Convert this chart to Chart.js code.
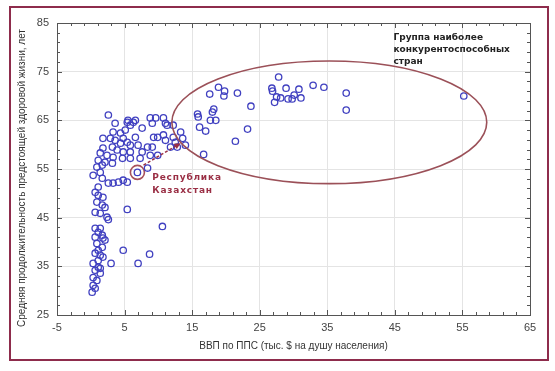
<!DOCTYPE html>
<html lang="ru">
<head>
<meta charset="UTF-8">
<title>ВВП по ППС и продолжительность здоровой жизни</title>
<script src="https://cdn.jsdelivr.net/npm/chart.js"></script>
<style>
    body { margin: 0; background: #fff; }
    #wrap { width: 555px; height: 371px; }
</style>
</head>
<body>
<div id="wrap"><canvas id="chart" width="555" height="371"></canvas></div>
<script>
// ВВП по ППС, тыс. $ на душу населения
const gdpValues = [
    27.8, 26.8, 26.9, 27.2, 27.5, 28.1, 28.9, 29.2, 29.8, 30.1, 30.8, 31.1, 32.9, 34.5, 37.8, 37.8, 55.2,
    18.9, 19.8, 19.7, 17.6, 21.7, 23.7, 15.8, 15.9, 18.0, 18.2, 17.7, 18.5, 16.1, 17.0, 23.2, 21.4, 16.7,
    9.6, 10.75, 11.05, 10.75, 11.05, 9.3, 12.5, 12.8, 11.8, 9.9, 9.1, 13.3, 12.2, 13.6, 14.0, 11.3, 12.2,
    2.6, 5.5, 6.3, 5.85, 7.6, 8.8, 9.1, 3.3, 4.4, 5.1, 6.6, 9.9, 1.8, 2.9, 3.6, 4.8, 5.4, 4.4, 5.85, 7.0,
    8.4, 1.8, 3.2, 3.9, 4.8, 5.85, 1.4, 2.4, 3.3, 4.7, 5.85, 7.3, 1.1, 2.1, 3.2, 8.8, 7.6, 0.9, 1.7, 8.4,
    3.6, 5.4, 6.6,
    1.4, 0.35, 1.7, 2.6, 3.3, 4.1, 4.8, 5.4, 1.1, 0.65, 1.1, 1.8, 0.9, 1.7, 2.1, 0.65, 1.4, 2.4, 2.6, 5.4,
    0.65, 1.1, 1.7, 0.65, 1.8, 1.4, 2.1, 0.9, 1.7, 1.1, 0.65, 1.8, 1.1, 0.35, 1.1, 0.65, 1.4, 0.35, 0.9,
    0.35, 0.65, 0.2, 1.4, 1.4, 4.8, 8.7, 7.0, 3.0, 10.6
];
// Средняя продолжительность предстоящей здоровой жизни, лет
const lifeValues = [
    73.9, 71.6, 71.0, 68.7, 69.8, 69.6, 71.6, 69.4, 69.4, 70.2, 71.4, 69.6, 72.2, 71.8, 70.6, 67.1, 70.0,
    71.8, 71.0, 70.0, 70.4, 70.6, 67.9, 66.3, 65.7, 66.7, 67.3, 65.0, 65.0, 63.6, 62.8, 63.2, 60.7, 58.0,
    65.5, 65.5, 64.4, 62.0, 60.9, 61.5, 60.5, 59.5, 59.5, 57.8, 59.5, 62.6, 61.5, 61.3, 59.9, 64.0, 64.0,
    66.1, 65.0, 64.6, 64.0, 63.4, 65.5, 64.4, 62.6, 62.4, 63.0, 61.5, 61.5, 61.3, 61.3, 60.9, 61.3, 60.5, 60.3, 59.9, 59.9,
    59.5, 59.3, 59.5, 58.9, 58.5, 58.5, 58.3, 57.8, 57.4, 57.2, 57.2, 57.2, 56.8, 56.4, 56.2, 57.8, 58.5, 55.4, 55.8, 55.2,
    64.4, 64.6, 65.0,
    54.3, 53.7, 53.1, 52.1, 52.1, 52.3, 52.7, 52.3, 51.3, 50.2, 49.6, 49.2, 48.2, 47.6, 47.1, 46.1, 45.9, 45.1, 44.6, 46.7,
    42.8, 42.0, 41.4, 41.0, 40.8, 42.8, 40.4, 39.7, 38.9, 38.3, 37.7, 36.9, 36.2, 35.6, 34.8, 34.2, 33.6, 32.7, 32.1,
    31.1, 30.5, 29.7, 37.3, 34.6, 38.3, 37.5, 35.6, 35.6, 43.2
];

// Республика Казахстан
const kzGdp = 6.9;
const kzLife = 54.3;

// arrow from Kazakhstan towards the group
const arrowFrom = [7.8, 55.8];
const arrowTo = [13.3, 60.3];

// ellipse around the most competitive countries (centre and half-axes in data units)
const ellipseCenter = [35.3, 64.6];
const ellipseRadius = [23.3, 12.6];

const xTitle = 'ВВП по ППС (тыс. $ на душу населения)';
const yTitle = 'Средняя продолжительность предстоящей здоровой жизни, лет';
const groupLabel = ['Группа наиболее', 'конкурентоспособных', 'стран'];
const kzLabel = ['Республика', 'Казахстан'];

const points = gdpValues.map((g, i) => ({ x: g, y: lifeValues[i] }));

const MAROON = '#9a2f45';
const BLUE = '#4040c0';

const decor = {
    id: 'decor',
    beforeDraw(chart) {
        const ctx = chart.ctx;
        ctx.save();
        ctx.fillStyle = '#fff';
        ctx.fillRect(0, 0, chart.width, chart.height);
        ctx.strokeStyle = '#8e2c4c';
        ctx.lineWidth = 2;
        ctx.strokeRect(10, 7, 538, 353);
        ctx.restore();
    },
    afterDatasetsDraw(chart) {
        const ctx = chart.ctx;
        const xs = chart.scales.x, ys = chart.scales.y;
        const area = chart.chartArea;
        ctx.save();

        // plot box
        ctx.strokeStyle = '#555';
        ctx.lineWidth = 1;
        ctx.strokeRect(area.left + 0.5, area.top + 0.5, area.right - area.left, area.bottom - area.top);

        // minor ticks
        ctx.beginPath();
        for (let v = -5; v <= 65; v += 2) {
            const px = Math.round(xs.getPixelForValue(v)) + 0.5;
            const len = (v + 5) % 10 === 0 ? 5 : 3;
            ctx.moveTo(px, area.bottom); ctx.lineTo(px, area.bottom - len);
            ctx.moveTo(px, area.top); ctx.lineTo(px, area.top + len);
        }
        for (let v = 25; v <= 85; v += 2) {
            const py = Math.round(ys.getPixelForValue(v)) + 0.5;
            const len = (v - 25) % 10 === 0 ? 5 : 3;
            ctx.moveTo(area.left, py); ctx.lineTo(area.left + len, py);
            ctx.moveTo(area.right, py); ctx.lineTo(area.right - len, py);
        }
        ctx.stroke();

        // ellipse
        const cx = xs.getPixelForValue(ellipseCenter[0]);
        const cy = ys.getPixelForValue(ellipseCenter[1]);
        const rx = xs.getPixelForValue(ellipseCenter[0] + ellipseRadius[0]) - cx;
        const ry = cy - ys.getPixelForValue(ellipseCenter[1] + ellipseRadius[1]);
        ctx.beginPath();
        ctx.ellipse(cx, cy, rx, ry, 0, 0, Math.PI * 2);
        ctx.strokeStyle = '#9b5058';
        ctx.lineWidth = 1.6;
        ctx.stroke();

        // arrow
        const ax0 = xs.getPixelForValue(arrowFrom[0]), ay0 = ys.getPixelForValue(arrowFrom[1]);
        const ax1 = xs.getPixelForValue(arrowTo[0]), ay1 = ys.getPixelForValue(arrowTo[1]);
        const ang = Math.atan2(ay1 - ay0, ax1 - ax0);
        ctx.strokeStyle = MAROON;
        ctx.lineWidth = 1.5;
        ctx.setLineDash([3, 2]);
        ctx.beginPath();
        ctx.moveTo(ax0, ay0);
        ctx.lineTo(ax1 - 5 * Math.cos(ang), ay1 - 5 * Math.sin(ang));
        ctx.stroke();
        ctx.setLineDash([]);
        ctx.fillStyle = MAROON;
        ctx.beginPath();
        ctx.moveTo(ax1, ay1);
        ctx.lineTo(ax1 - 7 * Math.cos(ang - 0.45), ay1 - 7 * Math.sin(ang - 0.45));
        ctx.lineTo(ax1 - 7 * Math.cos(ang + 0.45), ay1 - 7 * Math.sin(ang + 0.45));
        ctx.closePath();
        ctx.fill();

        // labels
        ctx.textBaseline = 'middle';
        ctx.textAlign = 'left';
        ctx.font = 'bold 9px "DejaVu Sans"';
        ctx.fillStyle = '#222';
        const gx = xs.getPixelForValue(44.8);
        groupLabel.forEach((t, i) => ctx.fillText(t, gx, ys.getPixelForValue(81.9) + i * 12));

        ctx.fillStyle = MAROON;
        ctx.letterSpacing = '0.8px';
        const kx = xs.getPixelForValue(9.1);
        kzLabel.forEach((t, i) => ctx.fillText(t, kx, ys.getPixelForValue(53.3) + i * 13));
        ctx.letterSpacing = '0px';

        // y axis title
        ctx.translate(22, 178);
        ctx.rotate(-Math.PI / 2);
        ctx.textAlign = 'center';
        ctx.font = '10px "Liberation Sans", Arial, sans-serif';
        ctx.fillStyle = '#333';
        ctx.fillText(yTitle, 0, 0);
        ctx.restore();
    }
};

new Chart(document.getElementById('chart').getContext('2d'), {
    type: 'scatter',
    data: {
        datasets: [{
            label: 'Страны',
            data: points,
            pointStyle: 'circle',
            pointRadius: 3.2,
            borderWidth: 1.3,
            borderColor: BLUE,
            backgroundColor: 'rgba(255,255,255,0)'
        }, {
            label: 'Республика Казахстан',
            data: [{ x: kzGdp, y: kzLife }],
            pointRadius: 3.2,
            borderWidth: 1.3,
            borderColor: BLUE,
            backgroundColor: 'rgba(255,255,255,0)'
        }, {
            label: 'Казахстан кольцо',
            data: [{ x: kzGdp, y: kzLife }],
            pointRadius: 7,
            borderWidth: 1.6,
            borderColor: '#a8505a',
            backgroundColor: 'rgba(255,255,255,0)'
        }]
    },
    options: {
        responsive: false,
        animation: false,
        layout: { padding: { left: 14, top: 23, right: 25, bottom: 18 } },
        plugins: {
            legend: { display: false },
            tooltip: { enabled: false }
        },
        scales: {
            x: {
                type: 'linear',
                min: -5,
                max: 65,
                ticks: {
                    stepSize: 10,
                    color: '#444',
                    padding: 6,
                    font: { family: '"Liberation Sans", Arial, sans-serif', size: 11 }
                },
                grid: { color: '#e4e4e4', drawTicks: false },
                border: { color: '#555' },
                title: {
                    display: true,
                    text: xTitle,
                    color: '#333',
                    font: { family: '"Liberation Sans", Arial, sans-serif', size: 10 },
                    padding: { top: 0, bottom: 1 }
                },
                afterFit(scale) { scale.height = 38; }
            },
            y: {
                min: 25,
                max: 85,
                ticks: {
                    stepSize: 10,
                    color: '#444',
                    padding: 8,
                    font: { family: '"Liberation Sans", Arial, sans-serif', size: 11 }
                },
                grid: { color: '#e4e4e4', drawTicks: false },
                border: { color: '#555' },
                afterFit(scale) { scale.width = 43; }
            }
        }
    },
    plugins: [decor]
});
</script>
</body>
</html>
